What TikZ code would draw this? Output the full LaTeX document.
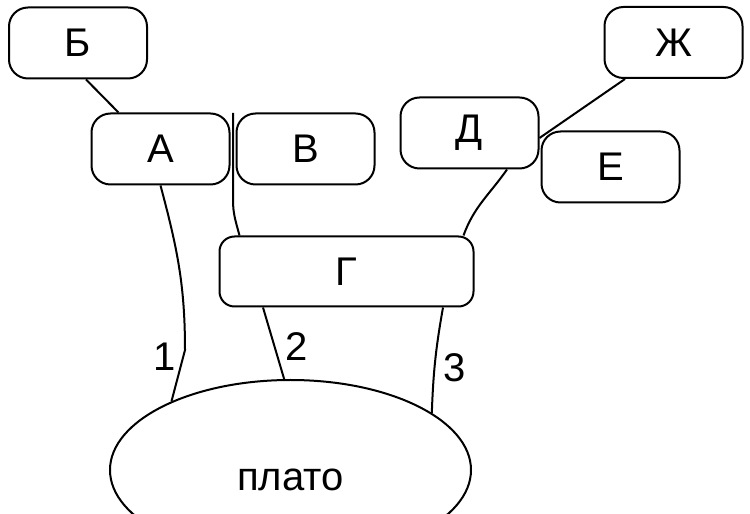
\documentclass[tikz,border=0pt]{standalone}
\usepackage{fontspec}
\setmainfont{Liberation Sans}
\usetikzlibrary{shapes.geometric}

\begin{document}
\begin{tikzpicture}[x=1pt, y=1pt, line width=2pt, font=\fontsize{40}{46}\selectfont,
		box/.style={draw, rounded corners=19pt, minimum width=138pt, minimum height=71pt, inner sep=0pt}]
		\useasboundingbox (0,0) rectangle (750,514);
		\clip (0,0) rectangle (750,514);
		% boxes
		\node[box] (b) at (78,471) {Б};
		\node[box] (a) at (160.5,365) {А};
		\node[box] (v) at (305.5,365) {В};
		\node[box] (d) at (469.5,381) {Д};
		\node[box] (zh) at (673.5,471.5) {Ж};
		\node[box] (e) at (610.5,347) {Е};
		\node[box, minimum width=254pt, minimum height=70pt, rounded corners=15pt] (g) at (346.5,242.5) {Г};
		% plateau
		\node[draw, ellipse, minimum width=361pt, minimum height=180pt] (plato) at (290.5,44) {};
		\node (platotext) at ([yshift=-10pt]plato.center) {плато};
		% links between boxes
		\draw ([xshift=8pt]b.south) -- ([xshift=-42pt]a.north);
		\coordinate (vtop) at (233,401);
		\draw (vtop) -- ++(0,-87) to[out=-90, in=105] ([xshift=21pt]g.north west);
		\draw ([xshift=37.5pt]d.south) to[out=-125, in=70] ([xshift=-11pt]g.north east);
		\draw ([yshift=-5pt]d.east) -- ([xshift=-48.5pt]zh.south);
		% roads to the plateau
		\coordinate (kink1) at (185,164);
		\draw (a.south) to[out=-75, in=90] (kink1) -- (plato.150);
		\draw ([xshift=-83.5pt]g.south) -- (plato.94);
		\draw ([xshift=96.5pt]g.south) to[bend right=4] (plato.22);
		\node (l1) at (165,157) {1};
		\node (l2) at (297,167) {2};
		\node (l3) at (455,146) {3};
	\end{tikzpicture}
\end{document}
